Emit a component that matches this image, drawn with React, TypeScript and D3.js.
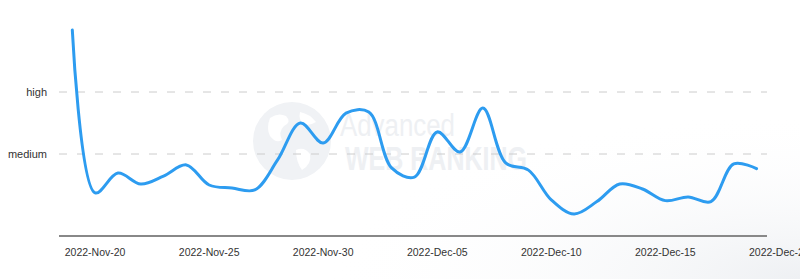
import React from "react";
import * as d3 from "d3";

const startDate = new Date(2022, 10, 19);
const values: number[] = [
  100, 34.3, 42.3, 37.9, 41.1, 45.6, 37.5, 36.3, 35.5, 47.6,
  62.5, 54.4, 66.5, 66.9, 44.4, 40.7, 58.9, 50.8, 68.5, 46.4,
  43.5, 31.5, 25.8, 30.8, 37.9, 35.9, 31.2, 32.7, 30.8, 46, 44.1,
];
const dates: Date[] = values.map((_, i) => d3.timeDay.offset(startDate, i));
const xTickDates: Date[] = [
  new Date(2022, 10, 20), new Date(2022, 10, 25), new Date(2022, 10, 30),
  new Date(2022, 11, 5), new Date(2022, 11, 10), new Date(2022, 11, 15),
  new Date(2022, 11, 20),
];
const yTickValues: number[] = [50, 75];
const yTickLabels: string[] = ["medium", "high"];

const W = 800;
const H = 279;

export default function App() {
  const x = d3
    .scaleTime()
    .domain([new Date(2022, 10, 18, 10), new Date(2022, 11, 19, 11)])
    .range([59, 767]);
  const y = d3.scaleLinear().domain([100, 50]).range([30, 154]);
  const yBottom = 236;

  const line = d3
    .line<number>()
    .x((_, i) => x(dates[i]))
    .y((d) => y(d))
    .curve(d3.curveCatmullRom.alpha(0.5));

  const fmt = d3.timeFormat("%Y-%b-%d");
  const [x0, x1] = x.range();

  return (
    <svg
      width={W}
      height={H}
      style={{ position: "absolute", left: 0, top: 0, background: "#fff" }}
      fontFamily="'Liberation Sans', Arial, sans-serif"
    >
      <defs>
        <radialGradient id="bg" cx="100%" cy="100%" r="60%">
          <stop offset="0%" stopColor="#eef0f3" />
          <stop offset="100%" stopColor="#ffffff" stopOpacity={0} />
        </radialGradient>
      </defs>
      <rect x={0} y={0} width={W} height={H} fill="url(#bg)" />

      {/* watermark */}
      <g>
        <circle cx={292} cy={141} r={39} fill="#f0f2f5" />
        <path
          d="M270,118 q8,-6 16,-2 q6,6 -2,10 q-6,6 -2,14 q-6,4 -12,-4 q-4,-8 0,-18 z M300,112 q10,2 16,10 q-6,4 -12,2 q-6,-4 -4,-12 z M296,150 q8,-4 14,4 q2,10 -8,16 q-6,-8 -6,-20 z"
          fill="#ffffff"
        />
        <text
          x={340}
          y={136}
          fontSize={31}
          fontFamily="'Liberation Sans Narrow', 'Liberation Sans', sans-serif"
          fill="#eef0f3"
          textLength={115}
          lengthAdjust="spacingAndGlyphs"
        >
          Advanced
        </text>
        <text
          x={345}
          y={170}
          fontSize={33}
          fontWeight="bold"
          fontFamily="'Liberation Sans Narrow', 'Liberation Sans', sans-serif"
          fill="#eef0f3"
          textLength={182}
          lengthAdjust="spacingAndGlyphs"
        >
          WEB RANKING
        </text>
      </g>

      {/* grid lines */}
      {yTickValues.map((v, i) => (
        <g key={i}>
          <line
            x1={x0}
            x2={x1}
            y1={y(v)}
            y2={y(v)}
            stroke="#cccccc"
            strokeWidth={1}
            strokeDasharray="8 10"
          />
          <text
            x={47}
            y={y(v)}
            dy="0.35em"
            textAnchor="end"
            fontSize={11}
            fill="#333"
          >
            {yTickLabels[i]}
          </text>
        </g>
      ))}

      {/* x axis */}
      <line x1={x0} x2={x1} y1={yBottom} y2={yBottom} stroke="#888" strokeWidth={2} />
      {xTickDates.map((d, i) => (
        <text
          key={i}
          x={x(d)}
          y={256}
          textAnchor="middle"
          fontSize={10.5}
          fill="#333"
        >
          {fmt(d)}
        </text>
      ))}

      <path
        d={line(values) || ""}
        fill="none"
        stroke="#2d9cf0"
        strokeWidth={3}
        strokeLinejoin="round"
        strokeLinecap="round"
      />
    </svg>
  );
}
